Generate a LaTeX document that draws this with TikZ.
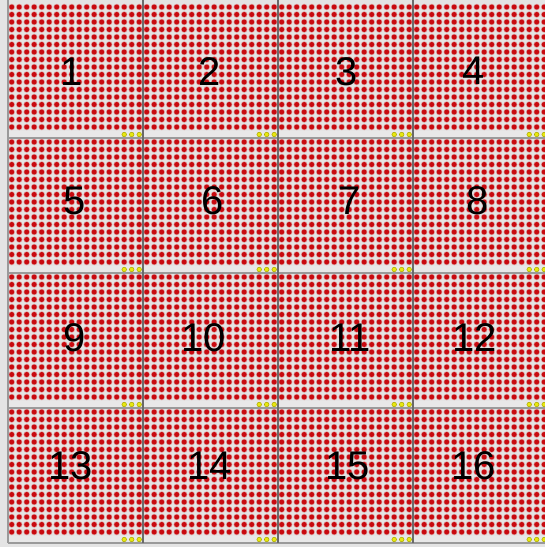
\documentclass[tikz,border=0pt]{standalone}
\usepackage{fontspec}
\setmainfont{Liberation Sans}
\definecolor{bgc}{HTML}{E4E4E4}
\definecolor{halo}{HTML}{DE9C9C}
\definecolor{dotc}{HTML}{C80A10}
\definecolor{stripc}{HTML}{E8E8E8}
\definecolor{hline}{HTML}{9A9A9A}
\definecolor{vline}{HTML}{6A6A6A}
\definecolor{yel}{HTML}{E8E810}
\definecolor{yeldk}{HTML}{A8A800}
\tikzset{
  num/.style={inner sep=0pt, font=\fontsize{40}{40}\selectfont, text=black},
  hsep/.style={draw=hline, line width=1.6pt},
  vsep/.style={draw=vline, line width=1.6pt},
  ydot/.style={fill=yel, draw=yeldk, line width=0.5pt},
  halorow/.style={draw=halo, line width=6.5pt, line cap=round, dash pattern=on 0pt off 7.5pt},
  dotrow/.style={draw=dotc, line width=5pt, line cap=round, dash pattern=on 0pt off 7.5pt}
}
\begin{document}
\begin{tikzpicture}[x=1pt,y=-1pt]
\useasboundingbox (0,0) rectangle (545,547);
\clip (0,0) rectangle (545,547);
\fill[bgc] (0,0) rectangle (545,547);
% strips
\foreach \r in {0,...,3} {
  \fill[stripc] (8,3.25+135*\r+127.5) rectangle (545,3.25+135*\r+135);
}
% dot rows
\foreach \r in {0,...,3} { \foreach \j in {0,...,16} {
  \path[halorow] (11.7, 7+135*\r+7.5*\j) -- (548, 7+135*\r+7.5*\j);
  \path[dotrow] (11.7, 7+135*\r+7.5*\j) -- (548, 7+135*\r+7.5*\j);
} }
% yellow dots
\foreach \r in {0,...,3} { \foreach \c in {0,...,3} { \foreach \k in {15,16,17} {
  \path[ydot] (11.7+135*\c+7.5*\k, 7+135*\r+7.5*17) circle (2.3);
} } }
% separators
\foreach \r in {0,...,3} {
  \path[hsep] (8,3.25+135*\r+135) -- (545,3.25+135*\r+135);
}
\path[draw=hline, line width=1.4pt] (8,0) -- (8,543.25);
\foreach \c in {1,2,3} {
  \path[vsep] (8+135*\c,0) -- (8+135*\c,543.25);
}
% numbers
\node[num] (n1) at (72,72) {1};
\node[num] (n2) at (210,72) {2};
\node[num] (n3) at (347,72) {3};
\node[num] (n4) at (474,71) {4};
\node[num] (n5) at (75,201) {5};
\node[num] (n6) at (213,201) {6};
\node[num] (n7) at (350,201) {7};
\node[num] (n8) at (478,201) {8};
\node[num] (n9) at (75,338) {9};
\node[num] (n10) at (204,338) {10};
\node[num] (n11) at (350,338) {11};
\node[num] (n12) at (475,338) {12};
\node[num] (n13) at (71,466) {13};
\node[num] (n14) at (210,466) {14};
\node[num] (n15) at (348,466) {15};
\node[num] (n16) at (474,466) {16};
\end{tikzpicture}
\end{document}
